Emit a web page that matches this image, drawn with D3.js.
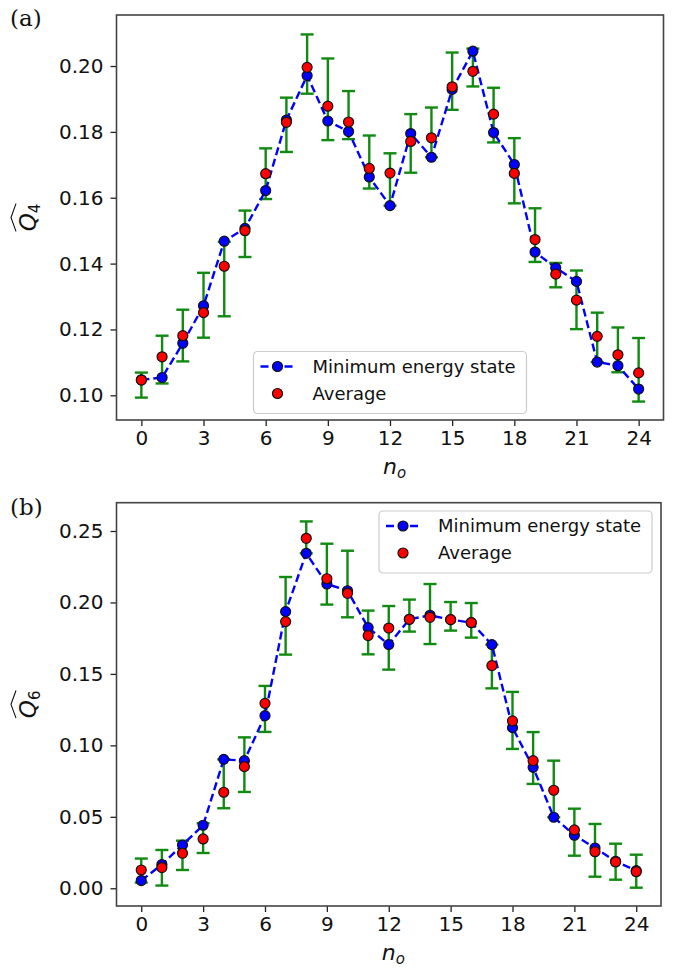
<!DOCTYPE html>
<html>
<head>
<meta charset="utf-8">
<script src="https://cdn.jsdelivr.net/npm/d3@7"></script>
<style>
  body { margin: 0; background: #fff; }
  svg { display: block; }
</style>
</head>
<body>
<div id="chart"></div>
<script>
/* Data */
var nValues = [0, 1, 2, 3, 4, 5, 6, 7, 8, 9, 10, 11, 12, 13, 14, 15, 16, 17, 18, 19, 20, 21, 22, 23, 24];

// (a) Q4
var q4Min  = [0.1047, 0.1054, 0.1158, 0.1272, 0.1468, 0.1507, 0.1622, 0.1836, 0.1971, 0.1833, 0.1801, 0.1663, 0.1576, 0.1795, 0.1723, 0.1929, 0.2045, 0.1798, 0.1701, 0.1435, 0.1387, 0.1346, 0.1101, 0.1090, 0.1019];
var q4Avg  = [0.1046, 0.1117, 0.1181, 0.1251, 0.1392, 0.1500, 0.1673, 0.1829, 0.1996, 0.1878, 0.1830, 0.1689, 0.1675, 0.1771, 0.1782, 0.1937, 0.1984, 0.1854, 0.1674, 0.1473, 0.1368, 0.1289, 0.1179, 0.1123, 0.1068];
var q4Low  = [0.0993, 0.1036, 0.1103, 0.1175, 0.1240, 0.1420, 0.1596, 0.1739, 0.1916, 0.1775, 0.1778, 0.1628, 0.1576, 0.1676, 0.1723, 0.1867, 0.1938, 0.1768, 0.1583, 0.1405, 0.1328, 0.1201, 0.1101, 0.1070, 0.0981];
var q4High = [0.1069, 0.1181, 0.1260, 0.1372, 0.1466, 0.1561, 0.1750, 0.1904, 0.2096, 0.2023, 0.1924, 0.1789, 0.1735, 0.1854, 0.1874, 0.2041, 0.2053, 0.1934, 0.1781, 0.1568, 0.1402, 0.1379, 0.1251, 0.1206, 0.1174];

// (b) Q6
var q6Min  = [0.0054, 0.0166, 0.0303, 0.0441, 0.0902, 0.0893, 0.1208, 0.1936, 0.2344, 0.2129, 0.2082, 0.1824, 0.1705, 0.1882, 0.1910, 0.1880, 0.1859, 0.1705, 0.1124, 0.0846, 0.0497, 0.0371, 0.0282, 0.0189, 0.0123];
var q6Avg  = [0.0128, 0.0145, 0.0245, 0.0345, 0.0672, 0.0851, 0.1294, 0.1866, 0.2449, 0.2166, 0.2064, 0.1768, 0.1821, 0.1882, 0.1896, 0.1880, 0.1859, 0.1558, 0.1171, 0.0893, 0.0686, 0.0408, 0.0256, 0.0184, 0.0116];
var q6Low  = [0.0040, 0.0019, 0.0128, 0.0247, 0.0560, 0.0674, 0.1094, 0.1635, 0.2344, 0.1985, 0.1896, 0.1637, 0.1530, 0.1796, 0.1709, 0.1803, 0.1754, 0.1399, 0.0975, 0.0730, 0.0497, 0.0228, 0.0081, 0.0060, 0.0004];
var q6High = [0.0208, 0.0268, 0.0333, 0.0455, 0.0902, 0.1056, 0.1416, 0.2178, 0.2567, 0.2411, 0.2362, 0.1943, 0.1975, 0.2020, 0.2129, 0.2003, 0.1996, 0.1705, 0.1374, 0.1093, 0.0893, 0.0557, 0.0450, 0.0312, 0.0235];

// Ticks & labels
var xTicks   = [0, 3, 6, 9, 12, 15, 18, 21, 24];
var q4Ticks  = [0.10, 0.12, 0.14, 0.16, 0.18, 0.20];
var q6Ticks  = [0.00, 0.05, 0.10, 0.15, 0.20, 0.25];
var legendLabels = ["Minimum energy state", "Average"];

/* Styles */
var blue  = "#0000ff",
    red   = "#ff0000",
    green = "#108a10",
    spine = "#444",
    sans  = "'DejaVu Sans', sans-serif",
    markR = 5;

var svg = d3.select("#chart").append("svg")
    .attr("width", 677)
    .attr("height", 969);

function drawPanel(cfg) {
    var x = d3.scaleLinear().domain([-1.2, 25.2]).range([cfg.left, cfg.right]);
    var y = d3.scaleLinear().domain(cfg.yDomain).range([cfg.bottom, cfg.top]);
    var g = svg.append("g");

    var rows = cfg.n.map(function (n, i) {
        return {n: n, min: cfg.min[i], avg: cfg.avg[i], lo: cfg.lo[i], hi: cfg.hi[i]};
    });

    // axes
    var xAxis = g.append("g")
        .attr("transform", "translate(0," + cfg.bottom + ")")
        .call(d3.axisBottom(x).tickValues(xTicks).tickSize(6).tickPadding(5).tickSizeOuter(0));
    var yAxis = g.append("g")
        .attr("transform", "translate(" + cfg.left + ",0)")
        .call(d3.axisLeft(y).tickValues(cfg.yTicks).tickFormat(d3.format(".2f")).tickSize(6).tickPadding(7).tickSizeOuter(0));
    [xAxis, yAxis].forEach(function (a) {
        a.select(".domain").remove();
        a.selectAll(".tick line").attr("stroke", "#222").attr("stroke-width", 1.3);
        a.selectAll(".tick text").attr("font-family", sans).attr("font-size", 20).attr("fill", "#111");
    });

    // error bars
    var eb = g.append("g").attr("stroke", green).attr("stroke-width", 2.4);
    eb.selectAll(".bar").data(rows).join("line")
        .attr("x1", function (d) { return x(d.n); })
        .attr("x2", function (d) { return x(d.n); })
        .attr("y1", function (d) { return y(d.lo); })
        .attr("y2", function (d) { return y(d.hi); });
    ["lo", "hi"].forEach(function (k) {
        eb.selectAll(".cap-" + k).data(rows).join("line")
            .attr("x1", function (d) { return x(d.n) - 6.5; })
            .attr("x2", function (d) { return x(d.n) + 6.5; })
            .attr("y1", function (d) { return y(d[k]); })
            .attr("y2", function (d) { return y(d[k]); });
    });

    // minimum energy line + markers
    var line = d3.line().x(function (d) { return x(d.n); }).y(function (d) { return y(d.min); });
    g.append("path").datum(rows)
        .attr("d", line)
        .attr("fill", "none")
        .attr("stroke", blue)
        .attr("stroke-width", 2.4)
        .attr("stroke-dasharray", "8,4");
    g.append("g").selectAll("circle").data(rows).join("circle")
        .attr("cx", function (d) { return x(d.n); })
        .attr("cy", function (d) { return y(d.min); })
        .attr("r", markR)
        .attr("fill", blue)
        .attr("stroke", "#111")
        .attr("stroke-width", 1.2);

    // average markers
    g.append("g").selectAll("circle").data(rows).join("circle")
        .attr("cx", function (d) { return x(d.n); })
        .attr("cy", function (d) { return y(d.avg); })
        .attr("r", markR)
        .attr("fill", red)
        .attr("stroke", "#111")
        .attr("stroke-width", 1.2);

    // frame
    g.append("rect")
        .attr("x", cfg.left).attr("y", cfg.top)
        .attr("width", cfg.right - cfg.left).attr("height", cfg.bottom - cfg.top)
        .attr("fill", "none").attr("stroke", spine).attr("stroke-width", 1.6);

    // legend
    var lg = g.append("g").attr("transform", "translate(" + cfg.legend[0] + "," + cfg.legend[1] + ")");
    lg.append("rect")
        .attr("width", 273).attr("height", 62).attr("rx", 4)
        .attr("fill", "#fff").attr("fill-opacity", 0.8)
        .attr("stroke", "#ccc").attr("stroke-width", 1.2);
    lg.append("line")
        .attr("x1", 7).attr("x2", 41).attr("y1", 15).attr("y2", 15)
        .attr("stroke", blue).attr("stroke-width", 2.4).attr("stroke-dasharray", "8,4");
    lg.append("circle").attr("cx", 24).attr("cy", 15).attr("r", markR)
        .attr("fill", blue).attr("stroke", "#111").attr("stroke-width", 1.2);
    lg.append("circle").attr("cx", 24).attr("cy", 42).attr("r", markR)
        .attr("fill", red).attr("stroke", "#111").attr("stroke-width", 1.2);
    lg.selectAll("text").data(legendLabels).join("text")
        .attr("x", 59)
        .attr("y", function (d, i) { return 15 + i * 27; })
        .attr("dy", "0.36em")
        .attr("font-family", sans).attr("font-size", 18).attr("fill", "#111")
        .text(function (d) { return d; });

    // x label: n_o
    var xl = g.append("text")
        .attr("x", (cfg.left + cfg.right) / 2 - 7)
        .attr("y", cfg.bottom + 54)
        .attr("font-family", sans).attr("font-size", 22).attr("font-style", "italic").attr("fill", "#111");
    xl.append("tspan").text("n");
    xl.append("tspan").attr("font-size", 15).attr("dy", 4).text("o");

    // y label: widehat Q with subscript, rotated
    var yl = g.append("g")
        .attr("transform", "translate(36," + ((cfg.top + cfg.bottom) / 2) + ") rotate(-90)");
    var yt = yl.append("text")
        .attr("text-anchor", "middle")
        .attr("font-family", sans).attr("font-size", 23).attr("fill", "#111");
    yt.append("tspan").attr("font-style", "italic").text("Q");
    yt.append("tspan").attr("font-size", 15).attr("dy", 4).text(cfg.sub);
    var bb = yt.node().getBBox();
    var hx0 = bb.x, hx1 = bb.x + bb.width, hy = -20;
    yl.append("path")
        .attr("d", "M" + hx0 + "," + hy + " L" + ((hx0 + hx1) / 2) + "," + (hy - 5) + " L" + hx1 + "," + hy)
        .attr("fill", "none").attr("stroke", "#111").attr("stroke-width", 1.1);

    // panel tag
    svg.append("text")
        .attr("x", 10).attr("y", cfg.tagY)
        .attr("font-family", "'DejaVu Serif', 'Liberation Serif', serif").attr("font-size", 23).attr("fill", "#111")
        .text(cfg.tag);
}

drawPanel({
    n: nValues, min: q4Min, avg: q4Avg, lo: q4Low, hi: q4High,
    yTicks: q4Ticks, yDomain: [0.0925, 0.2155],
    top: 15, bottom: 420, left: 116.5, right: 663.5,
    legend: [253.5, 351.5], sub: "4", tag: "(a)", tagY: 26
});

drawPanel({
    n: nValues, min: q6Min, avg: q6Avg, lo: q6Low, hi: q6High,
    yTicks: q6Ticks, yDomain: [-0.0124, 0.2698],
    top: 502.7, bottom: 906, left: 116.5, right: 661,
    legend: [379, 511], sub: "6", tag: "(b)", tagY: 515
});
</script>
</body>
</html>
